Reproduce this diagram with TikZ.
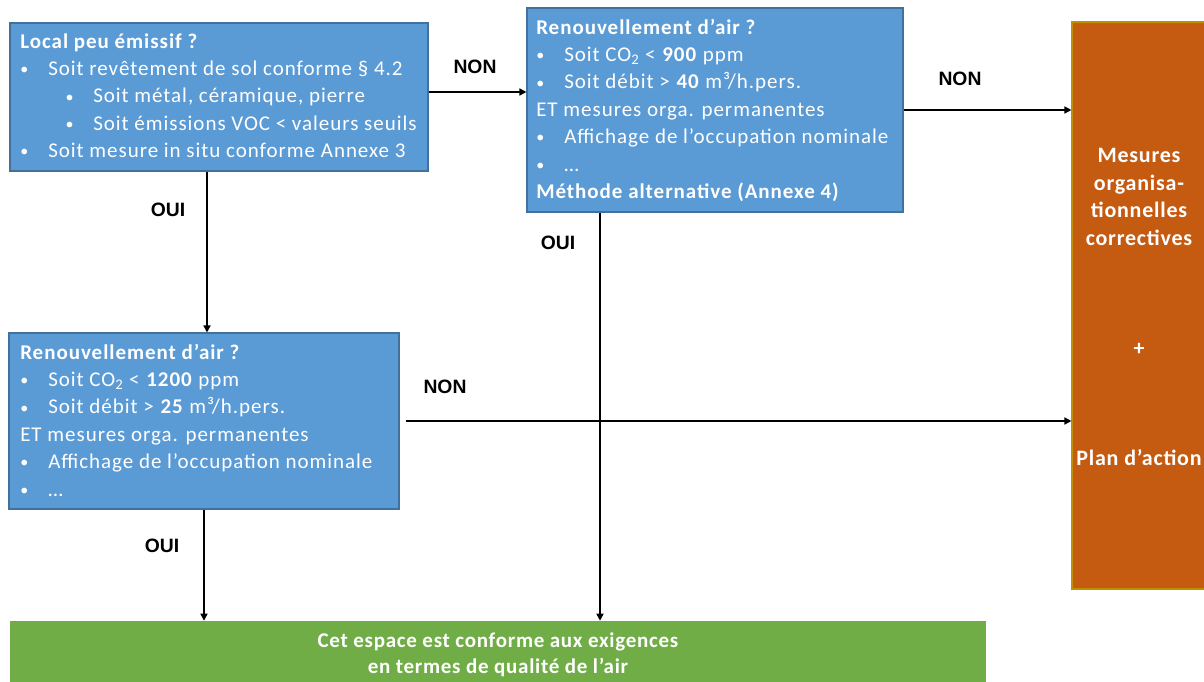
\documentclass[tikz,border=0pt]{standalone}
\usepackage{fontspec}
\setmainfont{Carlito}[LetterSpace=3.5]
\newfontfamily\labfont{Liberation Sans}
\usetikzlibrary{arrows.meta}
\definecolor{bfill}{HTML}{5B9BD5}
\definecolor{bline}{HTML}{41719C}
\definecolor{ofill}{HTML}{C55A11}
\definecolor{oline}{HTML}{BF9000}
\definecolor{gfill}{HTML}{70AD47}
\newcommand{\dotb}{\raisebox{0.6pt}{\fontsize{12}{11}\selectfont •}}
\newcommand{\bl}[1]{\makebox[21pt][l]{\dotb}#1}
\newcommand{\sbl}[1]{\hspace*{34pt}\makebox[20.75pt][l]{\dotb}#1}
\newcommand{\cod}{CO\textsubscript{2}}
\tikzset{
  box/.style={draw=bline, line width=0.8pt, fill=bfill, inner sep=0pt},
  txt/.style={anchor=base west, inner sep=0pt, text=white, font=\fontsize{15.75}{20.55}\selectfont\addfontfeatures{LetterSpace=4.6}},
  lbl/.style={font=\labfont\bfseries\fontsize{14.5}{16}\selectfont, inner sep=0pt},
  arr/.style={line width=1.1pt, -{Triangle[length=5.25pt,width=5.25pt]}},
  otxt/.style={text=white, inner sep=0pt, font=\bfseries\fontsize{16.5}{20.8}\selectfont},
}
\begin{document}
\begin{tikzpicture}[x=0.75pt, y=-0.75pt]
\clip (0,0) rectangle (1204,682);
\fill[white] (0,0) rectangle (1204,682);
% boxes
\node[box, minimum width=313.5pt, minimum height=111pt] (b1) at (219,97) {};
\node[box, minimum width=282pt, minimum height=153pt] (b2) at (715,110) {};
\node[box, minimum width=292.5pt, minimum height=132pt] (b3) at (204,421) {};
\node[draw=oline, line width=0.8pt, fill=ofill, minimum width=100.5pt, minimum height=425.25pt, inner sep=0pt] (or) at (1139,305.5) {};
\node[fill=gfill, minimum width=732pt, minimum height=51.75pt, inner sep=0pt] (gr) at (498,655.5) {};
% texts
\node[txt] (t1) at (20,48) {\begin{minipage}[t]{310pt}\setlength{\parindent}{0pt}%
\textbf{Local peu émissif ?}\\
\bl{Soit revêtement de sol conforme § 4.2}\\
\sbl{Soit métal, céramique, pierre}\\
\sbl{Soit émissions VOC < valeurs seuils}\\
\bl{Soit mesure in situ conforme Annexe 3}
\end{minipage}};
\node[txt] (t2) at (536,34) {\begin{minipage}[t]{280pt}\setlength{\parindent}{0pt}%
\textbf{Renouvellement d’air ?}\\
\bl{Soit \cod{} < \textbf{900} ppm}\\
\bl{Soit débit > \textbf{40} m³/h.pers.}\\
ET mesures orga. permanentes\\
\bl{Affichage de l’occupation nominale}\\
\bl{…}\\
\textbf{Méthode alternative (Annexe 4)}
\end{minipage}};
\node[txt] (t3) at (20,359) {\begin{minipage}[t]{290pt}\setlength{\parindent}{0pt}%
\textbf{Renouvellement d’air ?}\\
\bl{Soit \cod{} < \textbf{1200} ppm}\\
\bl{Soit débit > \textbf{25} m³/h.pers.}\\
ET mesures orga. permanentes\\
\bl{Affichage de l’occupation nominale}\\
\bl{…}
\end{minipage}};
\node[otxt, align=center] (o1) at (1139,197) {Mesures\\organisa-\\tionnelles\\correctives};
\node[otxt] (o2) at (1139,349) {+};
\node[otxt] (o3) at (1139,458) {Plan d’action};
\node[anchor=base, text=white, inner sep=0pt, font=\bfseries\fontsize{15.75}{19.5}\selectfont] (g1) at (498,647) {\begin{minipage}[t]{700pt}\centering Cet espace est conforme aux exigences\\en termes de qualité de l’air\end{minipage}};
% connectors
\coordinate (r1) at (470,92);
\draw[arr] (b1.east |- r1) -- (b2.west |- r1);
\draw[arr] (b2.east) -- (or.west |- b2.east);
\coordinate (c1) at (207,0);
\draw[arr] (b1.south -| c1) -- (b3.north -| c1);
\draw[arr] ([xshift=4.5pt]b3.east) -- (or.west |- b3.east);
\coordinate (c2) at (204,0);
\draw[arr] (b3.south -| c2) -- (gr.north -| c2);
\coordinate (c3) at (600,0);
\draw[arr] (b2.south -| c3) -- (gr.north -| c3);
% labels
\node[lbl] (n1) at (475,67) {NON};
\node[lbl] (n2) at (960,79) {NON};
\node[lbl] (n3) at (445,387) {NON};
\node[lbl] (o1l) at (168,210) {OUI};
\node[lbl] (o2l) at (162,546) {OUI};
\node[lbl] (o3l) at (558,243) {OUI};
\end{tikzpicture}
\end{document}
